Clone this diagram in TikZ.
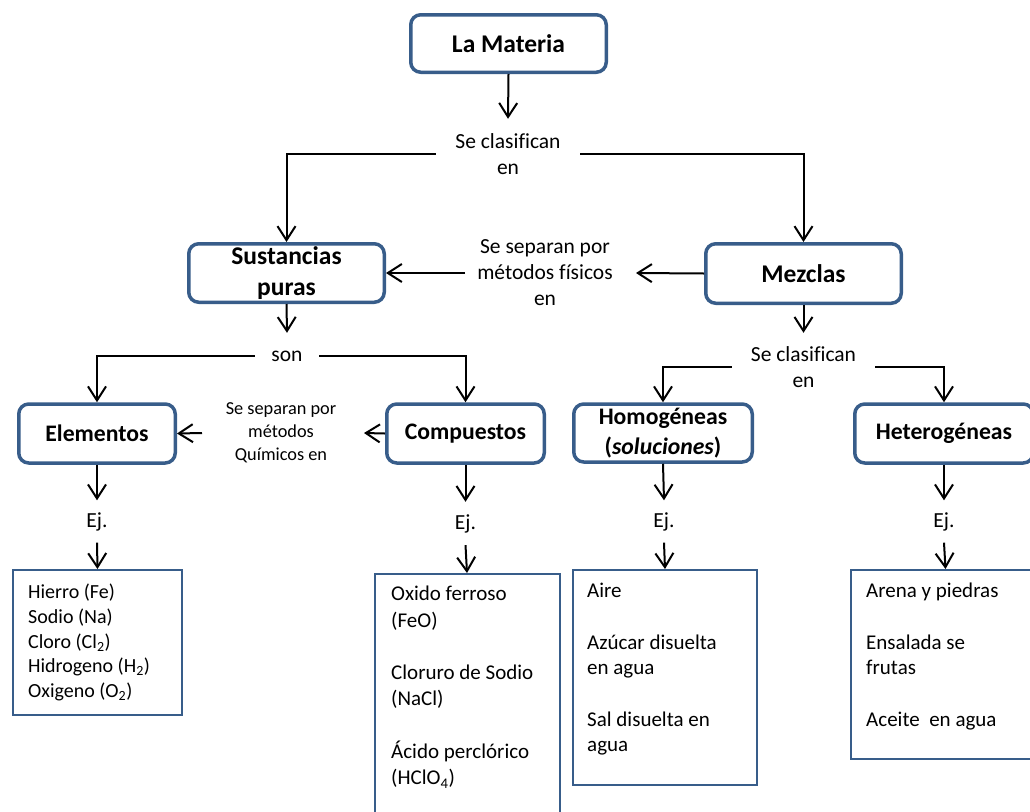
\documentclass[tikz,border=0pt]{standalone}
\usepackage{fontspec}
\setmainfont[Ligatures={NoCommon}]{Carlito}
\usetikzlibrary{arrows.meta}
\definecolor{boxblue}{RGB}{56,93,138}
\tikzset{
  bigbox/.style={draw=boxblue, line width=3.5pt, rounded corners=10pt, fill=white,
    align=center, inner sep=0pt, font=\bfseries\fontsize{25.5}{31}\selectfont},
  midbox/.style={bigbox, font=\bfseries\fontsize{23.7}{29.5}\selectfont},
  lbl/.style={align=center, inner sep=0pt, font=\fontsize{21.5}{26}\selectfont},
  smalllbl/.style={align=center, inner sep=0pt, font=\fontsize{18.3}{23}\selectfont},
  listbox/.style={draw=boxblue, line width=2pt, inner sep=0pt},
  listtxt/.style={anchor=north west, inner sep=0pt, align=left},
  arr/.style={line width=2pt, -{Straight Barb[length=14pt,width=18pt]}},
  conn/.style={line width=2pt}
}
\begin{document}
\begin{tikzpicture}[x=1pt, y=-1pt]
\useasboundingbox (0,0) rectangle (1030,811);

% main boxes
\node[bigbox, minimum width=195.5, minimum height=57.5] (mat) at (508.5,43.5) {La Materia};
\node[bigbox, minimum width=195.5, minimum height=58.5] (sus) at (286.5,273) {Sustancias\\puras};
\node[bigbox, minimum width=195.5, minimum height=59.5] (mez) at (803.5,273.5) {Mezclas};

\node[midbox, minimum width=156.5, minimum height=59] (ele) at (97,433.5) {Elementos};
\node[midbox, minimum width=157.5, minimum height=59] (com) at (465.5,433.5) {Compuestos};
\node[midbox, minimum width=178.5, minimum height=58] (hom) at (663,433) {Homogéneas\\(\textit{soluciones})};
\node[midbox, minimum width=178.5, minimum height=59] (het) at (944,433.5) {Heterogéneas};

% connecting phrases
\node[lbl, minimum width=144, minimum height=70] (cls1) at (508,154) {Se clasifican\\en};
\node[lbl, minimum width=143, minimum height=68] (cls2) at (803.5,367) {Se clasifican\\en};
\node[lbl, minimum width=64, minimum height=46] (son) at (287,356) {\raisebox{-3pt}{son}};
\node[lbl] (sep1) at (545,273) {Se separan por\\métodos físicos\\en};
\node[smalllbl] (sep2) at (281,433) {Se separan por\\métodos\\Químicos en};
\coordinate (sep1R) at (636,273);
\coordinate (sep1L) at (465,273);
\coordinate (sep2R) at (364,433);
\coordinate (sep2L) at (202,433);

% "Ej." labels
\node[lbl, minimum height=42] (ejE) at (97,521.5) {Ej.};
\node[lbl, minimum height=43] (ejC) at (465.5,523.5) {\raisebox{-5pt}{Ej.}};
\node[lbl, minimum height=42] (ejH) at (664,521.5) {Ej.};
\node[lbl, minimum height=42] (ejT) at (944,521.5) {Ej.};

% example lists
\node[listbox, minimum width=169, minimum height=145] (listE) at (97.5,642.5) {};
\node[listbox, minimum width=185, minimum height=247] (listC) at (467,697.5) {};
\node[listbox, minimum width=184, minimum height=215] (listH) at (665,677.5) {};
\node[listbox, minimum width=189, minimum height=189] (listT) at (945.5,664.5) {};

\node[listtxt, font=\fontsize{20}{24.6}\selectfont] (txtE) at (28,584)
  {Hierro (Fe)\\Sodio (Na)\\Cloro (Cl\textsubscript{2})\\Hidrogeno (H\textsubscript{2})\\Oxigeno (O\textsubscript{2})};
\node[listtxt, font=\fontsize{21}{26.3}\selectfont] (txtC) at (391,586)
  {Oxido ferroso\\(FeO)\\[26.3pt]Cloruro de Sodio\\(NaCl)\\[26.3pt]Ácido perclórico\\(HClO\textsubscript{4})};
\node[listtxt, font=\fontsize{21}{25.7}\selectfont] (txtH) at (587,583)
  {Aire\\[25.7pt]Azúcar disuelta\\en agua\\[25.7pt]Sal disuelta en\\agua};
\node[listtxt, font=\fontsize{21}{25.7}\selectfont] (txtT) at (866,583)
  {Arena y piedras\\[25.7pt]Ensalada se\\frutas\\[25.7pt]Aceite\ \ en agua};

% connectors
\draw[arr] (mat.south) -- (cls1.north);
\draw[arr] (cls1.west) -| (sus.north);
\draw[arr] (cls1.east) -| (mez.north);

\draw[arr] (mez.west) -- (sep1R);
\draw[arr] (sep1L) -- (sus.east);

\draw[arr] (sus.south) -- (son.north);
\draw[arr] (son.west) -| (ele.north);
\draw[arr] (son.east) -| (com.north);

\draw[arr] (mez.south) -- (cls2.north);
\draw[arr] (cls2.west) -| (hom.north);
\draw[arr] (cls2.east) -| (het.north);

\draw[arr] (com.west) -- (sep2R);
\draw[arr] (sep2L) -- (ele.east);

\draw[arr] (ele.south) -- (ejE.north);
\draw[arr] (ejE.south) -- (listE.north);
\draw[arr] (com.south) -- (ejC.north);
\draw[arr] (ejC.south) -- (listC.north);
\draw[arr] (hom.south) -- (ejH.north);
\draw[arr] (ejH.south) -- (listH.north);
\draw[arr] (het.south) -- (ejT.north);
\draw[arr] (ejT.south) -- (listT.north);
\end{tikzpicture}
\end{document}
